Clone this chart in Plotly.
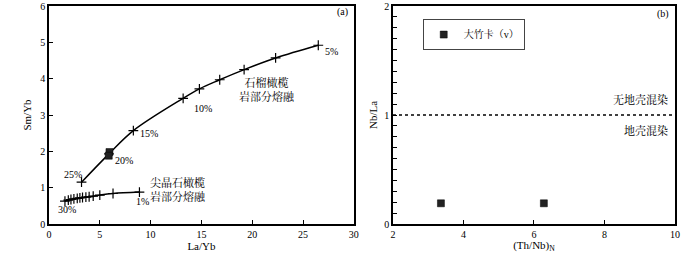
import plotly.graph_objects as go

# ---- Data (a) ----
garnet_x = [3.2, 5.9, 8.3, 13.2, 14.8, 16.8, 19.2, 22.3, 26.5]
garnet_y = [1.15, 1.93, 2.57, 3.46, 3.72, 3.97, 4.25, 4.57, 4.92]
spinel_x = [1.57, 1.9, 2.16, 2.45, 2.78, 3.04, 3.3, 3.63, 3.95, 4.35, 5.0, 6.3, 8.9]
spinel_y = [0.63, 0.655, 0.675, 0.69, 0.705, 0.72, 0.73, 0.74, 0.75, 0.765, 0.795, 0.84, 0.88]
samples_a_x = [5.95, 5.88]
samples_a_y = [1.98, 1.88]

# ---- Data (b) ----
samples_b_x = [3.36, 6.28]
samples_b_y = [0.19, 0.19]

FONT = "Liberation Serif, Noto Serif CJK SC, Noto Sans CJK SC, serif"

fig = go.Figure()

cross = dict(symbol="cross-thin", size=7, line=dict(color="black", width=1.2))
fig.add_trace(go.Scatter(x=garnet_x, y=garnet_y, mode="lines+markers",
                         line=dict(color="black", width=1.5, shape="spline"),
                         marker=cross, showlegend=False, xaxis="x", yaxis="y"))
fig.add_trace(go.Scatter(x=spinel_x, y=spinel_y, mode="lines+markers",
                         line=dict(color="black", width=1.5, shape="spline"),
                         marker=cross, showlegend=False, xaxis="x", yaxis="y"))
fig.add_trace(go.Scatter(x=samples_a_x, y=samples_a_y, mode="markers",
                         marker=dict(symbol="square", size=7, color="#222222",
                                     line=dict(color="black", width=0.5)),
                         showlegend=False, xaxis="x", yaxis="y"))
fig.add_trace(go.Scatter(x=samples_b_x, y=samples_b_y, mode="markers", name="大竹卡（v）",
                         marker=dict(symbol="square", size=7, color="#222222",
                                     line=dict(color="black", width=0.5)),
                         showlegend=True, xaxis="x2", yaxis="y2"))
# dashed line at Nb/La = 1
fig.add_trace(go.Scatter(x=[2, 10], y=[1, 1], mode="lines",
                         line=dict(color="black", width=1.3, dash="dot"),
                         showlegend=False, xaxis="x2", yaxis="y2", hoverinfo="skip"))

axis_common = dict(showline=True, linecolor="black", linewidth=1.5, mirror=True,
                   ticks="inside", ticklen=4, tickcolor="black", showgrid=False,
                   zeroline=False, automargin=False,
                   tickfont=dict(family=FONT, size=10, color="black"))

fig.update_layout(
    width=700, height=253,
    margin=dict(l=49, r=25, t=6, b=29),
    paper_bgcolor="white", plot_bgcolor="white",
    font=dict(family=FONT, size=10, color="black"),
    xaxis=dict(domain=[0, 0.487], range=[0, 30], tickvals=[0, 5, 10, 15, 20, 25, 30],
               title=dict(text="La/Yb", font=dict(family=FONT, size=11), standoff=1), **axis_common),
    yaxis=dict(range=[0, 6], tickvals=[0, 1, 2, 3, 4, 5, 6],
               title=dict(text="Sm/Yb", font=dict(family=FONT, size=11), standoff=6), **axis_common),
    xaxis2=dict(domain=[0.5495, 1.0], range=[2, 10], tickvals=[2, 4, 6, 8, 10], anchor="y2",
                title=dict(text="(Th/Nb)<sub>N</sub>", font=dict(family=FONT, size=11), standoff=0),
                **axis_common),
    yaxis2=dict(range=[0, 2], tickvals=[0, 1, 2], anchor="x2",
                minor=dict(dtick=0.1, ticks="inside", ticklen=4, tickcolor="black"),
                title=dict(text="Nb/La", font=dict(family=FONT, size=11), standoff=4), **axis_common),
    legend=dict(x=0.597, y=0.94, xanchor="left", yanchor="top", bgcolor="white",
                bordercolor="#444444", borderwidth=1, font=dict(family=FONT, size=10),
                itemwidth=30, tracegroupgap=0),
)

def ann(text, x, y, xref="x", yref="y", xanchor="left", yanchor="middle", size=10):
    fig.add_annotation(text=text, x=x, y=y, xref=xref, yref=yref, showarrow=False,
                       xanchor=xanchor, yanchor=yanchor,
                       font=dict(family=FONT, size=size, color="black"))

ann("(a)", 29.6, 5.83, xanchor="right")
ann("5%", 27.0, 4.74)
ann("10%", 14.1, 3.19)
ann("15%", 8.8, 2.5)
ann("20%", 6.3, 1.74)
ann("25%", 1.3, 1.35)
ann("30%", 0.7, 0.39)
ann("1%", 8.4, 0.61)
ann("石榴橄榄<br>岩部分熔融", 21.5, 3.69, xanchor="center", size=11)
ann("尖晶石橄榄<br>岩部分熔融", 12.7, 0.96, xanchor="center", size=11)

ann("(b)", 9.9, 1.93, xref="x2", yref="y2", xanchor="right")
ann("无地壳混染", 9.85, 1.14, xref="x2", yref="y2", xanchor="right", size=11)
ann("地壳混染", 9.85, 0.86, xref="x2", yref="y2", xanchor="right", size=11)

fig.write_html("out.html", post_script="document.body.style.margin='0';",
               config={"displayModeBar": False})
